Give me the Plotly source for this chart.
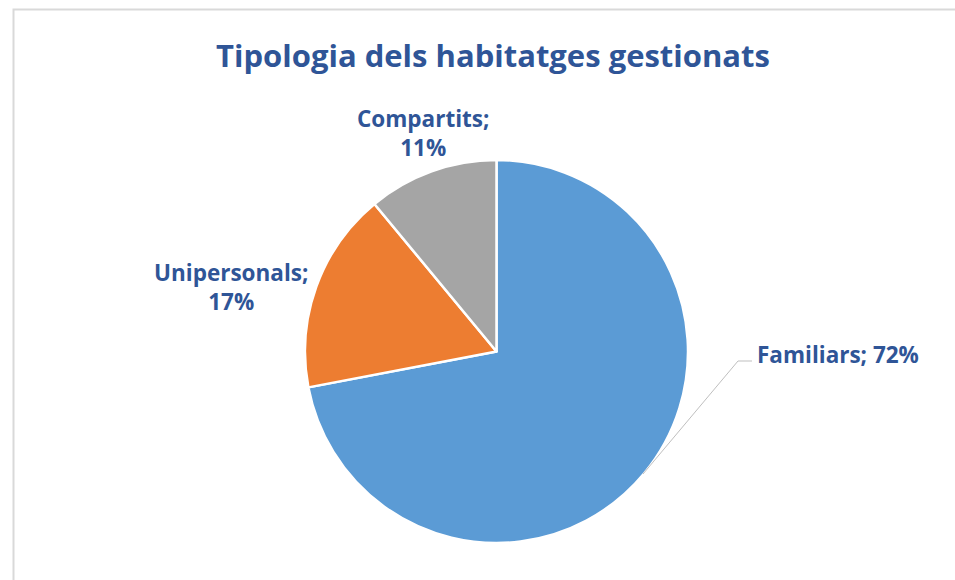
import plotly.graph_objects as go

labels = ["Familiars", "Unipersonals", "Compartits"]
values = [72, 17, 11]
colors = ["#5B9BD5", "#ED7D31", "#A5A5A5"]
title = "Tipologia dels habitatges gestionats"

W, H = 955, 580
TXT = "#2F5597"
FONT = "Open Sans"

def px(x):
    return x / W

def py(y):
    return 1 - y / H

fig = go.Figure(go.Pie(
    labels=labels, values=values, sort=False, direction="clockwise", rotation=0,
    marker=dict(colors=colors, line=dict(color="white", width=2.5)),
    textinfo="none", hoverinfo="label+percent", showlegend=False,
    domain=dict(x=[px(305), px(688)], y=[py(543), py(160)]),
))

# label annotations: (label index, x, y, anchor, text format)
label_pos = [
    (0, 755, 355, "left", "{l}; {v}%"),
    (1, 231, 287, "center", "{l};<br>{v}%"),
    (2, 423, 133, "center", "{l};<br>{v}%"),
]
for i, x, y, anc, fmt in label_pos:
    fig.add_annotation(
        x=px(x), y=py(y), xref="paper", yref="paper", xanchor=anc, yanchor="middle",
        text=fmt.format(l=labels[i], v=values[i]), showarrow=False, align="center",
        font=dict(family=FONT, size=22.5, color=TXT, weight="bold"),
    )

# leader line for Familiars
fig.add_shape(type="path", xref="paper", yref="paper",
              path=f"M {px(643)} {py(474)} L {px(738)} {py(361)} L {px(752)} {py(361)}",
              line=dict(color="#BFBFBF", width=1))

# chart border
fig.add_shape(type="rect", xref="paper", yref="paper",
              x0=px(13.5), y0=-0.05, x1=1.05, y1=py(9.5),
              line=dict(color="#D9D9D9", width=2))

fig.update_layout(
    width=W, height=H, margin=dict(l=0, r=0, t=0, b=0),
    paper_bgcolor="white", plot_bgcolor="white",
    title=dict(text=title, x=px(493), y=py(56), xanchor="center", yanchor="middle",
               font=dict(family=FONT, size=31, color=TXT, weight="bold")),
)

fig.write_html(
    "out.html",
    config={"displayModeBar": False},
    post_script="document.body.style.margin='0';document.body.style.overflow='hidden';",
)
